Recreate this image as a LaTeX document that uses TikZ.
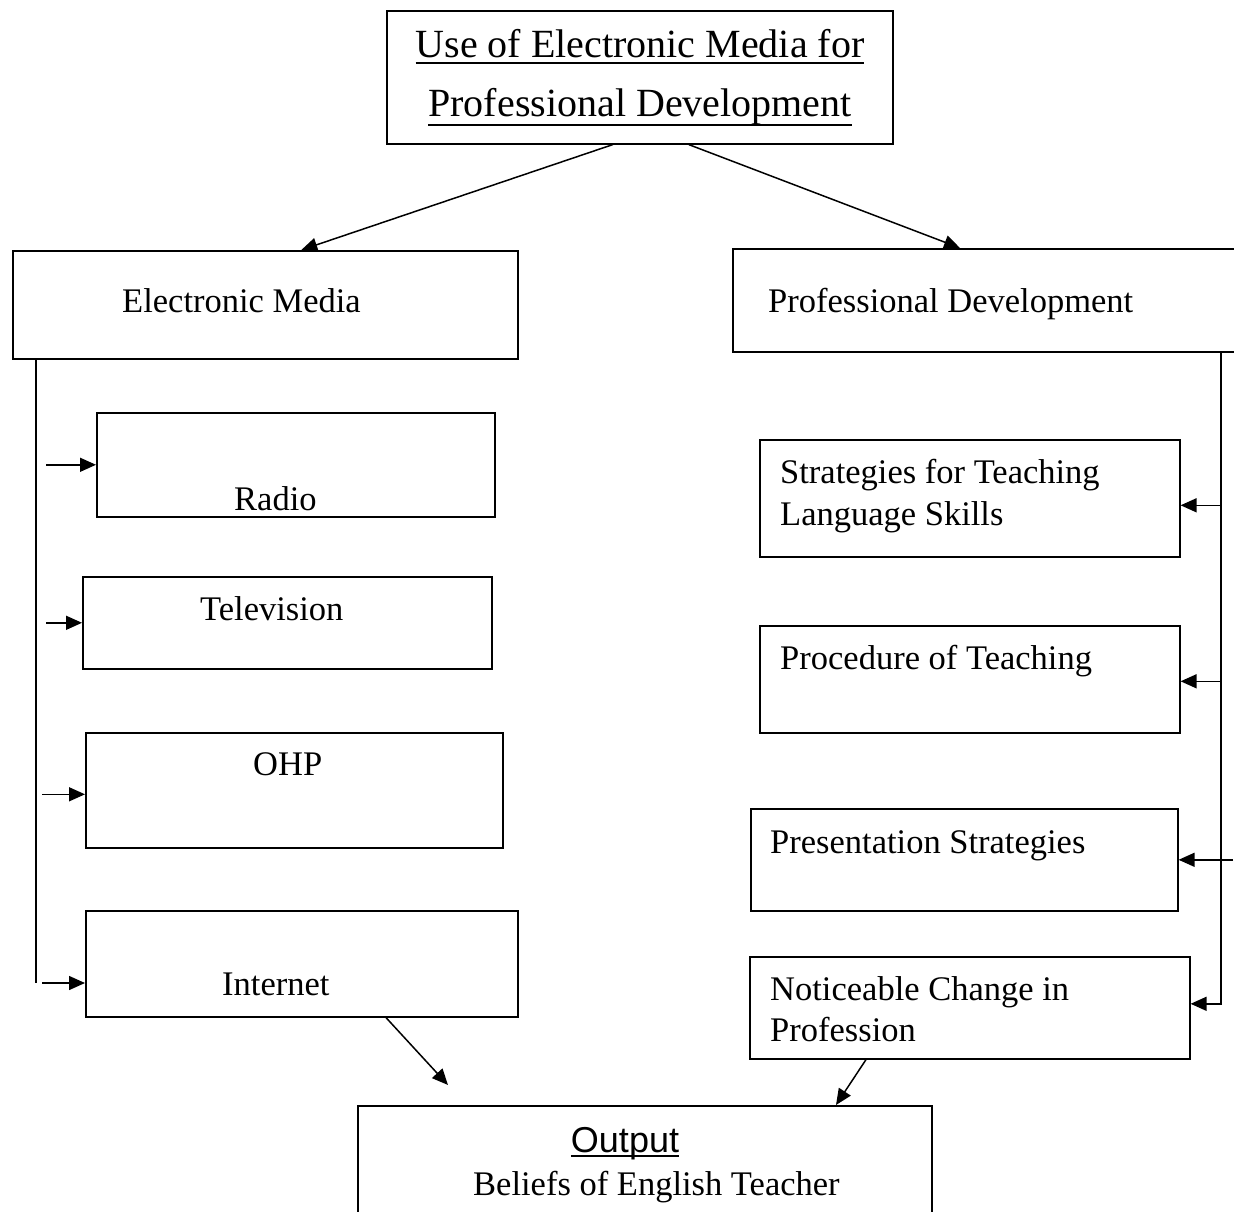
\documentclass[tikz,border=0pt]{standalone}
\usepackage{fontspec}
\setmainfont{Liberation Serif}
\newfontfamily\arialfont{Liberation Sans}
\usetikzlibrary{arrows.meta}
\newcommand\myul[2]{\setbox0\hbox{#2}\rlap{\rule[-#1pt]{\wd0}{1.8pt}}\box0}
\begin{document}
\begin{tikzpicture}[x=1pt,y=-1pt,
  box/.style={draw,line width=1.6pt,inner sep=0pt,anchor=north west},
  txt/.style={inner sep=0pt,anchor=base west,font=\fontsize{34.5}{40}\selectfont},
  ttl/.style={inner sep=0pt,anchor=base,font=\fontsize{40}{46}\selectfont},
  conn/.style={line width=1.5pt},
  arr/.style={line width=1.5pt,-{Triangle[length=16pt,width=14pt]}}]
\useasboundingbox (0,0) rectangle (1234,1212);
% boxes
\node[box,minimum width=506pt,minimum height=133pt] (title) at (386,10) {};
\node[box,minimum width=505pt,minimum height=108pt] (em) at (12,250) {};
\node[box,minimum width=520pt,minimum height=103pt] (pd) at (732,248) {};
\node[box,minimum width=398pt,minimum height=104pt] (radio) at (96,412) {};
\node[box,minimum width=409pt,minimum height=92pt] (tv) at (82,576) {};
\node[box,minimum width=417pt,minimum height=115pt] (ohp) at (85,732) {};
\node[box,minimum width=432pt,minimum height=106pt] (inet) at (85,910) {};
\node[box,minimum width=420pt,minimum height=117pt] (strat) at (759,439) {};
\node[box,minimum width=420pt,minimum height=107pt] (proc) at (759,625) {};
\node[box,minimum width=427pt,minimum height=102pt] (pres) at (750,808) {};
\node[box,minimum width=440pt,minimum height=102pt] (notice) at (749,956) {};
\node[box,minimum width=574pt,minimum height=130pt] (out) at (357,1105) {};
% texts
\node[ttl] (t1) at (640,58) {\myul{6}{Use of Electronic Media for}};
\node[ttl] (t2) at (640,117) {\myul{9}{Professional Development}};
\node[txt] (temt) at (122,312) {Electronic Media};
\node[txt] (tpd) at (768,312) {Professional Development};
\node[txt] (tradio) at (234,510) {Radio};
\node[txt] (ttv) at (200,620) {Television};
\node[txt] (tohp) at (253,775) {OHP};
\node[txt] (tinet) at (222,995) {Internet};
\node[txt] (ts1) at (780,483) {Strategies for Teaching};
\node[txt] (ts2) at (780,525) {Language Skills};
\node[txt] (tproc) at (780,669) {Procedure of Teaching};
\node[txt] (tpres) at (770,853) {Presentation Strategies};
\node[txt] (tn1) at (770,1000) {Noticeable Change in};
\node[txt] (tn2) at (770,1041) {Profession};
\node[inner sep=0pt,anchor=base,font=\arialfont\fontsize{36}{42}\selectfont] (tout) at (625,1152) {\myul{5}{Output}};
\node[txt] (tbel) at (473,1195) {Beliefs of English Teacher};
% top arrows
\draw[arr] ([xshift=-27pt]title.south) -- ([xshift=36pt]em.north);
\draw[arr] ([xshift=49pt]title.south) -- ([xshift=228pt]pd.north west);
% left bus
\coordinate (lb) at (36,358);
\coordinate (la) at (46,358);
\coordinate (lend) at (36,983);
\draw[conn] (lb) -- (lend);
\draw[arr] (la |- radio.west) -- (radio.west);
\draw[arr] (la |- tv.west) -- (tv.west);
\draw[arr] ([xshift=-4pt]la |- ohp.west) ++(0,4) -- ([yshift=-4pt]ohp.west);
\draw[arr] ([xshift=-4pt]la |- lend) -- (inet.west |- lend);
% right bus
\coordinate (rb) at (1221,351);
\coordinate (rp) at (1233,351);
\draw[arr] (rb) |- ([yshift=4pt]notice.east);
\draw[arr] (rb |- strat.east) ++(0,7) -- ([yshift=-7pt]strat.east);
\draw[arr] (rb |- proc.east) ++(0,2) -- ([yshift=-2pt]proc.east);
\draw[arr] (rp |- pres.east) -- (pres.east);
% bottom arrows
\coordinate (free) at (448,1085);
\draw[arr] ([xshift=301pt]inet.south west) -- (free);
\draw[arr] ([xshift=117pt]notice.south west) -- ([xshift=479pt]out.north west);
\end{tikzpicture}
\end{document}
